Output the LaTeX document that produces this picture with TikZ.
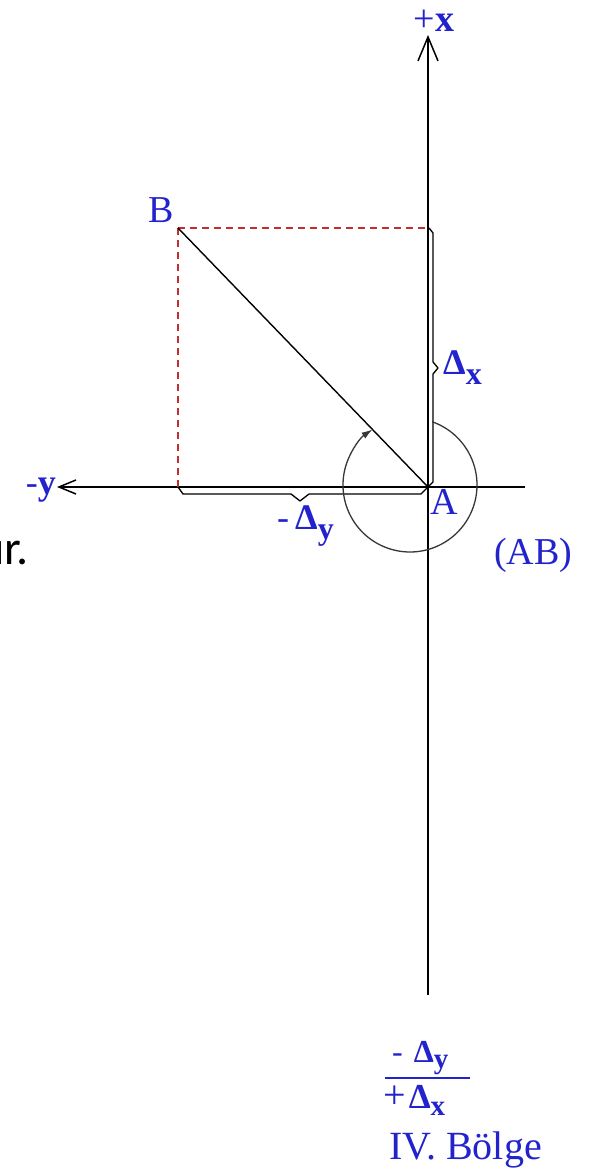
\documentclass[tikz,border=0pt]{standalone}
\usepackage{fontspec}
\setmainfont{Liberation Serif}
\newfontfamily\calibfont{Carlito}
\usetikzlibrary{arrows.meta}
\definecolor{lblue}{RGB}{35,35,205}
\definecolor{dred}{RGB}{195,45,45}
\definecolor{circgrey}{RGB}{55,55,55}
\newcommand{\fsz}[1]{\fontsize{#1}{#1}\selectfont}
\begin{document}
\begin{tikzpicture}[x=1pt,y=1pt,
  lbl/.style={text=lblue, inner sep=0pt, font=\fsz{38}},
  axisline/.style={line width=1.5pt, black},
  guide/.style={dred, line width=1.5pt, dash pattern=on 7pt off 5pt},
  bracel/.style={line width=1.3pt, black, line join=round},
  circline/.style={line width=1.3pt, circgrey}
]
\useasboundingbox (0,0) rectangle (589,1174);
\fill[white] (0,0) rectangle (589,1174);

\coordinate (A) at (428,687);
\coordinate (B) at (178,946);
\coordinate (C) at (429,946);
\coordinate (D) at (178,687);
\coordinate (xtop) at (428,1139);
\coordinate (xbot) at (428,179);
\coordinate (yleft) at (57,687);
\coordinate (yright) at (525,687);
\coordinate (O) at (410,689);

% axes
\draw[axisline,-{Straight Barb[length=24pt,width=20pt,line width=1.5pt]}] (xbot) -- (xtop);
\draw[axisline,-{Straight Barb[length=17pt,width=14pt,line width=1.5pt]}] (yright) -- (yleft);

% dashed projections
\draw[guide] (B) -- (C);
\draw[guide] (B) -- (D);

% line AB
\draw[line width=1.4pt] (A) -- (B);

% braces
\draw[bracel] (C) -- (433,941) -- (433,812) -- (438,806) -- (433,800) -- (433,692) -- (A);
\draw[bracel] (D) -- (183,680) -- (291,680) -- (300,673) -- (309,680) -- (421,680) -- (A);

% angle arc
\draw[circline,-{Latex[length=11pt,width=7pt]}]
  ([shift={(70.8:67)}]O) arc[start angle=70.8, end angle=-236, radius=67];

% labels
\node[lbl, anchor=base] (lx) at (434,1142) {+\textbf{x}};
\node[lbl, anchor=base east] (lB) at (174,951) {B};
\node[lbl, anchor=base west] (lA) at (430,659) {A};
\node[lbl, anchor=base west] (lAB) at (494,609) {(AB)};
\node[lbl, anchor=base east, font=\fsz{36}] (ly) at (56,679) {-\textbf{y}};
\node[lbl, anchor=base west, font=\fsz{36}\bfseries] (ldx) at (443,799) {Δ\raisebox{-10pt}{\fsz{32}x}};
\node[lbl, anchor=base west, font=\fsz{36}\bfseries] (ldy) at (277,644) {\mdseries -\,\bfseries Δ\raisebox{-10pt}{\fsz{32}y}};

% bottom fraction
\node[lbl, anchor=base west, font=\fsz{32}\bfseries] (num) at (392,111) {\mdseries -\hspace{11pt}\bfseries Δ\raisebox{-6pt}{\fsz{29}y}};
\draw[lblue, line width=2.2pt] (385,96) -- (470,96);
\node[lbl, anchor=base west, font=\fsz{40}] (den) at (383,65) {+\hspace{3pt}\fsz{35}\bfseries Δ\raisebox{-7pt}{\fsz{29}x}};
\node[lbl, anchor=base west, font=\fsz{40}] (bolge) at (389,14) {IV. Bölge};

% cut-off text at the left edge
\node[anchor=base east, inner sep=0pt, font=\calibfont\fsz{48}] (ur) at (29,609) {ur.};
\end{tikzpicture}
\end{document}
